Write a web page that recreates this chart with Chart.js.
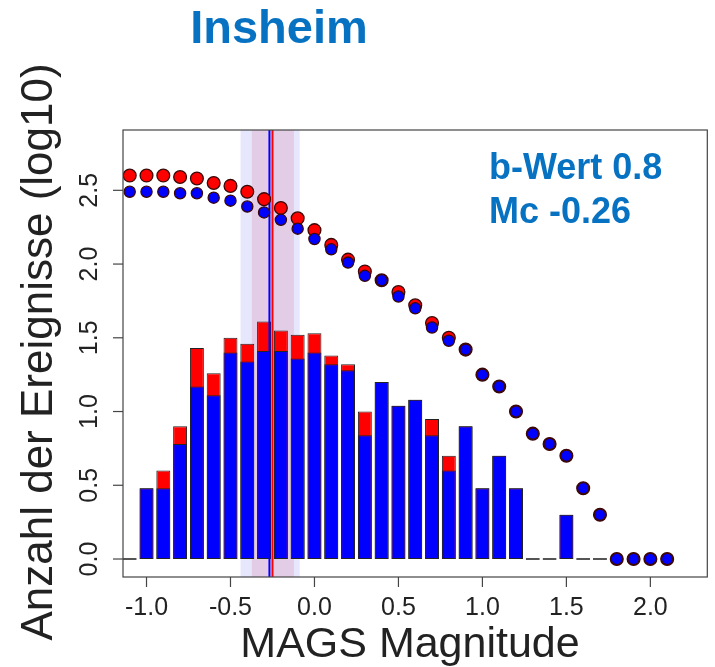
<!DOCTYPE html>
<html>
<head>
<meta charset="utf-8">
<script src="https://cdn.jsdelivr.net/npm/chart.js@4.4.1/dist/chart.umd.min.js"></script>
<style>
  html, body { margin: 0; padding: 0; background: #fff; }
  #wrap { width: 715px; height: 667px; }
</style>
</head>
<body>
<div id="wrap"><canvas id="fmd" width="715" height="667"></canvas></div>
<script>
// histogram bins, 0.1 magnitude wide
const binMags = [-1.1, -1.0, -0.9, -0.8, -0.7, -0.6, -0.5, -0.4, -0.3, -0.2, -0.1,
  0.0, 0.1, 0.2, 0.3, 0.4, 0.5, 0.6, 0.7, 0.8, 0.9, 1.0, 1.1, 1.2, 1.3, 1.4, 1.5, 1.6, 1.7];
// log10 of events per bin: all events (red) and selected events (blue)
const binAll = [0, 0.48, 0.60, 0.90, 1.43, 1.26, 1.50, 1.46, 1.61, 1.55, 1.52,
  1.53, 1.38, 1.32, 1.00, 1.20, 1.04, 1.08, 0.95, 0.70, 0.90, 0.48, 0.70, 0.48, 0, 0, 0.30, 0, 0];
const binSel = [0, 0.48, 0.48, 0.78, 1.17, 1.11, 1.40, 1.34, 1.41, 1.41, 1.36,
  1.40, 1.32, 1.28, 0.84, 1.20, 1.04, 1.08, 0.84, 0.60, 0.90, 0.48, 0.70, 0.48, 0, 0, 0.30, 0, 0];

// cumulative counts (log10), events >= magnitude
const cumMags = [-1.1, -1.0, -0.9, -0.8, -0.7, -0.6, -0.5, -0.4, -0.3, -0.2, -0.1,
  0.0, 0.1, 0.2, 0.3, 0.4, 0.5, 0.6, 0.7, 0.8, 0.9, 1.0, 1.1, 1.2, 1.3, 1.4, 1.5,
  1.6, 1.7, 1.8, 1.9, 2.0, 2.1];
const cumAll = [2.60, 2.60, 2.60, 2.59, 2.58, 2.55, 2.53, 2.49, 2.44, 2.38, 2.31,
  2.23, 2.13, 2.03, 1.95, 1.89, 1.81, 1.72, 1.60, 1.50, 1.42, 1.25, 1.17, 1.00,
  0.85, 0.78, 0.70, 0.48, 0.30, 0, 0, 0, 0];
const cumSel = [2.49, 2.49, 2.49, 2.48, 2.48, 2.45, 2.43, 2.39, 2.35, 2.30, 2.24,
  2.17, 2.10, 2.01, 1.92, 1.89, 1.78, 1.70, 1.57, 1.48, 1.42, 1.25, 1.17, 1.00,
  0.85, 0.78, 0.70, 0.48, 0.30, 0, 0, 0, 0];

const xTicks = [-1.0, -0.5, 0.0, 0.5, 1.0, 1.5, 2.0];
const yTicks = [0.0, 0.5, 1.0, 1.5, 2.0, 2.5];

// completeness magnitude and its uncertainty bands
const mcAll = -0.25;
const mcSel = -0.268;
const mcBandOuter = [-0.44, -0.088];
const mcBandInner = [-0.373, -0.122];
const bValue = 0.8;
const mcValue = -0.26;

const FONT = "'Liberation Sans', Arial, sans-serif";
const BLUE_TEXT = '#0872c2';

const toXY = (xs, ys) => xs.map((x, i) => ({ x: x, y: ys[i] }));

const frame = {
  id: 'frame',
  beforeDatasetsDraw(chart) {
    const { ctx, chartArea: a, scales: { x } } = chart;
    ctx.save();
    ctx.fillStyle = '#e6e6fd';
    let x0 = x.getPixelForValue(mcBandOuter[0]);
    let x1 = x.getPixelForValue(mcBandOuter[1]);
    ctx.fillRect(x0, a.top, x1 - x0, a.bottom - a.top);
    ctx.fillStyle = '#e3cde6';
    x0 = x.getPixelForValue(mcBandInner[0]);
    x1 = x.getPixelForValue(mcBandInner[1]);
    ctx.fillRect(x0, a.top, x1 - x0, a.bottom - a.top);
    ctx.restore();
  },
  afterDraw(chart) {
    const { ctx, chartArea: a, scales: { x, y } } = chart;
    ctx.save();

    // box
    ctx.strokeStyle = '#444';
    ctx.lineWidth = 1.2;
    ctx.strokeRect(a.left, a.top, a.right - a.left, a.bottom - a.top);

    // x axis
    ctx.fillStyle = '#222';
    ctx.font = '25px ' + FONT;
    ctx.textAlign = 'center';
    ctx.textBaseline = 'alphabetic';
    xTicks.forEach(v => {
      const px = x.getPixelForValue(v);
      ctx.beginPath();
      ctx.moveTo(px, a.bottom);
      ctx.lineTo(px, a.bottom + 10);
      ctx.stroke();
      ctx.fillText(v.toFixed(1), px, 615);
    });

    // y axis, labels turned like the title
    yTicks.forEach(v => {
      const py = y.getPixelForValue(v);
      ctx.beginPath();
      ctx.moveTo(a.left, py);
      ctx.lineTo(a.left - 10, py);
      ctx.stroke();
      ctx.save();
      ctx.translate(97, py);
      ctx.rotate(-Math.PI / 2);
      ctx.fillText(v.toFixed(1), 0, 0);
      ctx.restore();
    });

    // axis titles
    ctx.font = '43px ' + FONT;
    ctx.fillText('MAGS Magnitude', 410, 657);
    ctx.save();
    ctx.translate(52, 352);
    ctx.rotate(-Math.PI / 2);
    ctx.font = '44px ' + FONT;
    ctx.fillText('Anzahl der Ereignisse (log10)', 0, 0);
    ctx.restore();

    // station name and fit results
    ctx.fillStyle = BLUE_TEXT;
    ctx.font = 'bold 47px ' + FONT;
    ctx.fillText('Insheim', 279, 43);
    ctx.textAlign = 'left';
    ctx.font = 'bold 36px ' + FONT;
    ctx.fillText('b-Wert ' + bValue.toFixed(1), 489, 179);
    ctx.fillText('Mc ' + mcValue.toFixed(2), 489, 223);

    ctx.restore();
  }
};

const yMin = -0.122;
const yMax = 2.909;

new Chart(document.getElementById('fmd'), {
  type: 'bar',
  data: {
    datasets: [
      {
        type: 'scatter',
        data: toXY(cumMags, cumSel),
        backgroundColor: '#0000ff',
        borderColor: '#3a0808',
        borderWidth: 1.3,
        pointRadius: 5.6,
        order: 0
      },
      {
        type: 'scatter',
        data: toXY(cumMags, cumAll),
        backgroundColor: '#ff0000',
        borderColor: '#3a0808',
        borderWidth: 1.3,
        pointRadius: 6.4,
        order: 1
      },
      {
        type: 'line',
        data: [{ x: mcAll, y: yMin }, { x: mcAll, y: yMax }],
        borderColor: '#ff0000',
        borderWidth: 2,
        pointRadius: 0,
        order: 2
      },
      {
        type: 'line',
        data: [{ x: mcSel, y: yMin }, { x: mcSel, y: yMax }],
        borderColor: '#0000ff',
        borderWidth: 2,
        pointRadius: 0,
        order: 3
      },
      {
        data: toXY(binMags, binSel),
        backgroundColor: c => (c.raw && c.raw.y === 0 ? '#555' : '#0000ff'),
        borderColor: c => (c.raw && c.raw.y === 0 ? '#555' : '#222'),
        borderWidth: 1,
        borderSkipped: false,
        minBarLength: 2,
        grouped: false,
        barPercentage: 0.83,
        categoryPercentage: 1,
        order: 4
      },
      {
        data: toXY(binMags, binAll),
        backgroundColor: '#ff0000',
        borderColor: '#222',
        borderWidth: 1,
        borderSkipped: false,
        grouped: false,
        barPercentage: 0.83,
        categoryPercentage: 1,
        order: 5
      }
    ]
  },
  options: {
    responsive: false,
    animation: false,
    events: [],
    layout: { padding: { left: 123, right: 4, top: 130, bottom: 90 } },
    plugins: { legend: { display: false }, tooltip: { enabled: false } },
    scales: {
      x: { type: 'linear', display: false, min: -1.14, max: 2.339, offset: false },
      y: { type: 'linear', display: false, min: yMin, max: yMax }
    }
  },
  plugins: [frame]
});
</script>
</body>
</html>
